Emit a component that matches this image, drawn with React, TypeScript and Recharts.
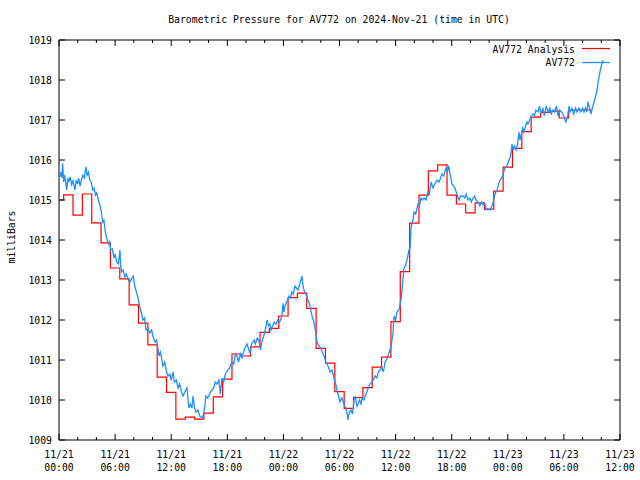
import React from 'react';
import { LineChart, Line, XAxis, YAxis, ReferenceArea } from 'recharts';

const TITLE = 'Barometric Pressure for AV772 on 2024-Nov-21 (time in UTC)';
const Y_LABEL = 'milliBars';
const SERIES_NAMES = ['AV772 Analysis', 'AV772'];
const SERIES_COLORS = ['#ff0000', '#1e90ff'];

// hours since 2024-11-21 00:00 UTC
const analysisHours = [
  0, 1, 2, 3, 4, 5, 6, 7, 8, 9, 10, 11, 12, 13, 14, 15, 16, 17, 18, 19, 20,
  21, 22, 23, 24, 25, 26, 27, 28, 29, 30, 31, 32, 33, 34, 35, 36, 37, 38, 39,
  40, 41, 42, 43, 44, 45, 46, 47, 48, 49, 50, 51, 52, 53, 54, 55, 56, 57,
];
const analysisMb = [
  1015.0, 1015.13, 1014.62, 1015.15, 1014.43, 1013.93, 1013.3, 1013.03, 1012.38, 1011.92,
  1011.38, 1010.57, 1010.19, 1009.52, 1009.57, 1009.52, 1009.67, 1010.08, 1010.52, 1011.15,
  1011.1, 1011.33, 1011.69, 1011.79, 1012.1, 1012.56, 1012.67, 1012.29, 1011.29, 1010.92,
  1010.21, 1009.79, 1010.06, 1010.31, 1010.82, 1011.07, 1011.96, 1013.21, 1014.42, 1015.12,
  1015.73, 1015.88, 1015.12, 1014.9, 1014.68, 1014.93, 1014.77, 1015.22, 1015.82, 1016.29,
  1016.71, 1017.07, 1017.19, 1017.22, 1017.05, 1017.25, 1017.25, 1017.25,
];

const sensorHours = [
  0.0, 0.1, 0.2, 0.3, 0.39, 0.5, 0.6, 0.7, 0.82, 0.95, 1.05, 1.2, 1.35, 1.5, 1.62, 1.71, 1.85, 2.0,
  2.1, 2.25, 2.4, 2.55, 2.7, 2.89, 3.0, 3.15, 3.3, 3.45, 3.6, 3.75, 3.9, 4.05, 4.2, 4.35, 4.5, 4.67,
  4.8, 4.95, 5.1, 5.28, 5.4, 5.53, 5.7, 5.88, 6.0, 6.17, 6.35, 6.52, 6.6, 6.7, 6.85, 7.06, 7.2, 7.41,
  7.6, 7.8, 7.95, 8.1, 8.31, 8.45, 8.66, 8.8, 8.98, 9.15, 9.3, 9.5, 9.73, 9.9, 10.1, 10.27, 10.45,
  10.7, 10.85, 11.12, 11.3, 11.5, 11.66, 11.85, 12.0, 12.19, 12.35, 12.55, 12.73, 12.9, 13.1, 13.26,
  13.45, 13.69, 13.8, 13.9, 14.05, 14.22, 14.33, 14.5, 14.65, 14.85, 15.05, 15.29, 15.45, 15.6, 15.72,
  15.9, 16.04, 16.2, 16.36, 16.55, 16.7, 16.9, 17.1, 17.25, 17.43, 17.6, 17.8, 18.07, 18.25, 18.5,
  18.7, 18.85, 19.04, 19.2, 19.4, 19.57, 19.8, 20.0, 20.1, 20.25, 20.43, 20.6, 20.86, 21.0, 21.2,
  21.39, 21.55, 21.7, 21.9, 22.1, 22.25, 22.4, 22.55, 22.67, 22.85, 23.0, 23.21, 23.4, 23.6, 23.85,
  23.96, 24.05, 24.17, 24.35, 24.6, 24.75, 24.92, 25.05, 25.24, 25.4, 25.56, 25.75, 25.99, 26.1,
  26.2, 26.4, 26.63, 26.8, 27.06, 27.2, 27.38, 27.6, 27.81, 28.0, 28.15, 28.34, 28.55, 28.77, 29.0,
  29.2, 29.41, 29.6, 29.73, 29.9, 30.05, 30.25, 30.48, 30.65, 30.8, 30.9, 31.05, 31.23, 31.4, 31.55,
  31.7, 31.85, 31.98, 32.15, 32.3, 32.41, 32.6, 32.83, 33.0, 33.26, 33.5, 33.8, 34.0, 34.15, 34.33,
  34.55, 34.7, 34.87, 35.05, 35.29, 35.51, 35.72, 35.83, 36.0, 36.15, 36.35, 36.58, 36.79, 36.9,
  37.05, 37.22, 37.43, 37.55, 37.65, 37.86, 37.97, 38.15, 38.4, 38.55, 38.72, 38.85, 39.04, 39.25,
  39.47, 39.6, 39.79, 40.0, 40.2, 40.43, 40.65, 40.96, 41.15, 41.39, 41.55, 41.7, 41.82, 42.03, 42.2,
  42.35, 42.55, 42.78, 42.95, 43.21, 43.4, 43.55, 43.74, 43.95, 44.1, 44.28, 44.45, 44.6, 44.81, 45.0,
  45.2, 45.35, 45.55, 45.7, 45.88, 46.1, 46.3, 46.45, 46.63, 46.85, 47.17, 47.35, 47.5, 47.7, 47.9,
  48.13, 48.3, 48.45, 48.56, 48.7, 48.88, 49.05, 49.2, 49.3, 49.45, 49.6, 49.73, 49.9, 50.05, 50.16,
  50.35, 50.5, 50.7, 50.85, 51.0, 51.23, 51.4, 51.55, 51.76, 51.9, 52.1, 52.3, 52.5, 52.65, 52.83,
  53.0, 53.2, 53.37, 53.55, 53.75, 53.9, 54.05, 54.22, 54.4, 54.55, 54.65, 54.85, 55.05, 55.25, 55.4,
  55.6, 55.8, 56.0, 56.15, 56.3, 56.45, 56.58, 56.75, 56.9, 57.05, 57.22, 57.4, 57.54, 57.7, 57.86,
  58.0, 58.18,
];
const sensorMb = [
  1015.67, 1015.58, 1015.7, 1015.55, 1015.92, 1015.45, 1015.62, 1015.48, 1015.25, 1015.55, 1015.45,
  1015.58, 1015.38, 1015.48, 1015.35, 1015.25, 1015.5, 1015.4, 1015.55, 1015.35, 1015.5, 1015.62,
  1015.55, 1015.83, 1015.62, 1015.7, 1015.5, 1015.45, 1015.25, 1015.3, 1015.12, 1015.18, 1015.0,
  1014.9, 1014.75, 1014.45, 1014.5, 1014.2, 1014.05, 1013.9, 1013.95, 1013.75, 1013.78, 1013.55,
  1013.65, 1013.45, 1013.4, 1013.75, 1013.35, 1013.2, 1013.25, 1013.08, 1013.15, 1013.0, 1012.95,
  1013.05, 1013.1, 1012.85, 1012.67, 1012.55, 1012.3, 1012.2, 1012.0, 1012.05, 1011.75, 1011.78,
  1011.68, 1011.75, 1011.55, 1011.45, 1011.5, 1011.1, 1011.2, 1010.85, 1010.95, 1010.7, 1010.6,
  1010.65, 1010.5, 1010.7, 1010.45, 1010.5, 1010.3, 1010.4, 1010.2, 1010.1, 1010.2, 1010.3, 1010.0,
  1009.8, 1009.9, 1009.8, 1010.1, 1009.8, 1009.7, 1009.75, 1009.6, 1009.55, 1009.65, 1009.85,
  1010.1, 1010.05, 1010.12, 1010.2, 1010.25, 1010.3, 1010.45, 1010.4, 1010.5, 1010.15, 1010.55,
  1010.45, 1010.65, 1010.75, 1010.8, 1010.95, 1010.9, 1011.15, 1011.1, 1010.95, 1011.15, 1011.05,
  1011.25, 1011.35, 1011.4, 1011.3, 1011.17, 1011.4, 1011.5, 1011.4, 1011.55, 1011.48, 1011.25,
  1011.45, 1011.6, 1011.8, 1012.0, 1011.85, 1011.9, 1011.75, 1011.85, 1011.95, 1011.9, 1012.0,
  1011.95, 1012.1, 1012.42, 1012.2, 1012.35, 1012.45, 1012.6, 1012.55, 1012.7, 1012.65, 1012.85,
  1012.8, 1012.75, 1012.9, 1013.1, 1012.85, 1012.75, 1012.65, 1012.5, 1012.4, 1012.1, 1012.0,
  1011.8, 1011.45, 1011.35, 1011.3, 1011.2, 1011.1, 1010.95, 1010.85, 1010.7, 1010.75, 1010.55,
  1010.4, 1010.25, 1010.1, 1009.95, 1010.05, 1009.9, 1009.8, 1009.67, 1009.5, 1009.7, 1009.75,
  1009.65, 1010.0, 1010.1, 1009.85, 1009.9, 1010.0, 1009.9, 1010.05, 1010.0, 1010.15, 1010.25,
  1010.4, 1010.45, 1010.6, 1010.55, 1010.7, 1010.75, 1010.8, 1010.7, 1010.95, 1011.0, 1011.17,
  1011.35, 1011.65, 1012.1, 1012.0, 1012.2, 1012.25, 1012.5, 1013.0, 1013.3, 1013.35, 1013.5,
  1013.75, 1013.8, 1014.3, 1014.5, 1014.7, 1014.65, 1014.9, 1014.85, 1015.05, 1015.0, 1015.05,
  1015.0, 1015.2, 1015.15, 1015.45, 1015.3, 1015.4, 1015.5, 1015.45, 1015.65, 1015.6, 1015.8,
  1015.7, 1015.85, 1015.65, 1015.4, 1015.35, 1015.3, 1015.15, 1015.0, 1015.1, 1015.1, 1015.05,
  1015.15, 1015.0, 1015.05, 1014.95, 1015.05, 1015.1, 1015.0, 1014.95, 1014.85, 1014.95, 1014.88,
  1014.9, 1014.75, 1014.78, 1014.75, 1014.85, 1014.95, 1015.15, 1015.25, 1015.5, 1015.55, 1015.65,
  1015.8, 1015.85, 1016.0, 1016.1, 1016.4, 1016.25, 1016.35, 1016.25, 1016.4, 1016.7, 1016.5,
  1016.65, 1016.8, 1016.7, 1016.85, 1016.95, 1016.9, 1017.0, 1017.1, 1017.15, 1017.1, 1017.25,
  1017.2, 1017.35, 1017.15, 1017.3, 1017.1, 1017.35, 1017.2, 1017.3, 1017.15, 1017.25, 1017.2,
  1017.35, 1017.1, 1017.25, 1017.2, 1017.15, 1017.05, 1016.95, 1017.1, 1017.35, 1017.2, 1017.3,
  1017.15, 1017.3, 1017.2, 1017.3, 1017.2, 1017.3, 1017.2, 1017.3, 1017.2, 1017.45, 1017.3, 1017.15,
  1017.3, 1017.45, 1017.6, 1017.75, 1018.0, 1018.2, 1018.35, 1018.5,
];

const xTickHours = [0, 6, 12, 18, 24, 30, 36, 42, 48, 54, 60];
const xTickDates = ['11/21', '11/21', '11/21', '11/21', '11/22', '11/22', '11/22', '11/22', '11/23', '11/23', '11/23'];
const xTickTimes = ['00:00', '06:00', '12:00', '18:00', '00:00', '06:00', '12:00', '18:00', '00:00', '06:00', '12:00'];
const xMinorHours = [2, 4, 8, 10, 14, 16, 20, 22, 26, 28, 32, 34, 38, 40, 44, 46, 50, 52, 56, 58];
const yTicks = [1009, 1010, 1011, 1012, 1013, 1014, 1015, 1016, 1017, 1018, 1019];

const analysisData = analysisHours.map((h, i) => ({ h, mb: analysisMb[i] }));
const sensorData = sensorHours.map((h, i) => ({ h, mb: sensorMb[i] }));
const allXTicks = [...xTickHours, ...xMinorHours].sort((a, b) => a - b);

// layout
const W = 640;
const H = 480;
const PL = 59;
const PR = 620;
const PT = 40;
const PB = 440;
const FONT = 'DejaVu Sans Mono';
const FS = 11;
const SX = 0.89;

function MonoText(props: { x: number; y: number; anchor: 'start' | 'middle' | 'end'; children: React.ReactNode; rotate?: boolean }) {
  const { x, y, anchor, children, rotate } = props;
  const t = rotate
    ? `translate(${x},${y}) rotate(-90) scale(${SX},1)`
    : `translate(${x},${y}) scale(${SX},1)`;
  return (
    <g transform={t}>
      <text x={0} y={0} textAnchor={anchor} fontFamily={FONT} fontSize={FS} fill="#000">
        {children}
      </text>
    </g>
  );
}

function XTick(props: any) {
  const { x, payload } = props;
  const v = payload.value as number;
  const idx = xTickHours.indexOf(v);
  const len = idx >= 0 ? 6 : 3;
  return (
    <g>
      <line x1={x} y1={PB} x2={x} y2={PB - len} stroke="#000" strokeWidth={1} />
      <line x1={x} y1={PT} x2={x} y2={PT + len} stroke="#000" strokeWidth={1} />
      {idx >= 0 && (
        <>
          <MonoText x={x} y={PB + 18} anchor="middle">{xTickDates[idx]}</MonoText>
          <MonoText x={x} y={PB + 31} anchor="middle">{xTickTimes[idx]}</MonoText>
        </>
      )}
    </g>
  );
}

function YTick(props: any) {
  const { y, payload } = props;
  return (
    <g>
      <line x1={PL} y1={y} x2={PL + 6} y2={y} stroke="#000" strokeWidth={1} />
      <line x1={PR} y1={y} x2={PR - 6} y2={y} stroke="#000" strokeWidth={1} />
      <MonoText x={PL - 7} y={y + 4} anchor="end">{String(payload.value)}</MonoText>
    </g>
  );
}

export default function App() {
  return (
    <div style={{ position: 'absolute', left: 0, top: 0, width: W, height: H, background: '#fff' }}>
      <LineChart width={W} height={H} margin={{ top: PT, right: W - PR, bottom: 0, left: 0 }}>
        <XAxis
          type="number"
          dataKey="h"
          domain={[0, 60]}
          ticks={allXTicks}
          interval={0}
          height={H - PB}
          tickLine={false}
          axisLine={false}
          tickSize={0}
          tick={<XTick />}
          allowDataOverflow
        />
        <YAxis
          type="number"
          domain={[1009, 1019]}
          ticks={yTicks}
          interval={0}
          width={PL}
          tickLine={false}
          axisLine={false}
          tickSize={0}
          tick={<YTick />}
          allowDataOverflow
        />
        <ReferenceArea x1={0} x2={60} y1={1009} y2={1019} fill="none" fillOpacity={0} stroke="#000" strokeWidth={1} ifOverflow="visible" />
        <Line
          data={analysisData}
          dataKey="mb"
          type="step"
          stroke={SERIES_COLORS[0]}
          strokeWidth={1.2}
          dot={false}
          isAnimationActive={false}
        />
        <Line
          data={sensorData}
          dataKey="mb"
          type="linear"
          stroke={SERIES_COLORS[1]}
          strokeWidth={1.3}
          dot={false}
          isAnimationActive={false}
        />
      </LineChart>
      <svg width={W} height={H} style={{ position: 'absolute', left: 0, top: 0, pointerEvents: 'none' }}>
        <MonoText x={339} y={23} anchor="middle">{TITLE}</MonoText>
        <MonoText x={15} y={237} anchor="middle" rotate>{Y_LABEL}</MonoText>
        <MonoText x={575} y={53} anchor="end">{SERIES_NAMES[0]}</MonoText>
        <line x1={582} y1={48.5} x2={610} y2={48.5} stroke={SERIES_COLORS[0]} strokeWidth={1.2} />
        <MonoText x={575} y={66} anchor="end">{SERIES_NAMES[1]}</MonoText>
        <line x1={582} y1={62.5} x2={610} y2={62.5} stroke={SERIES_COLORS[1]} strokeWidth={1.3} />
      </svg>
    </div>
  );
}
